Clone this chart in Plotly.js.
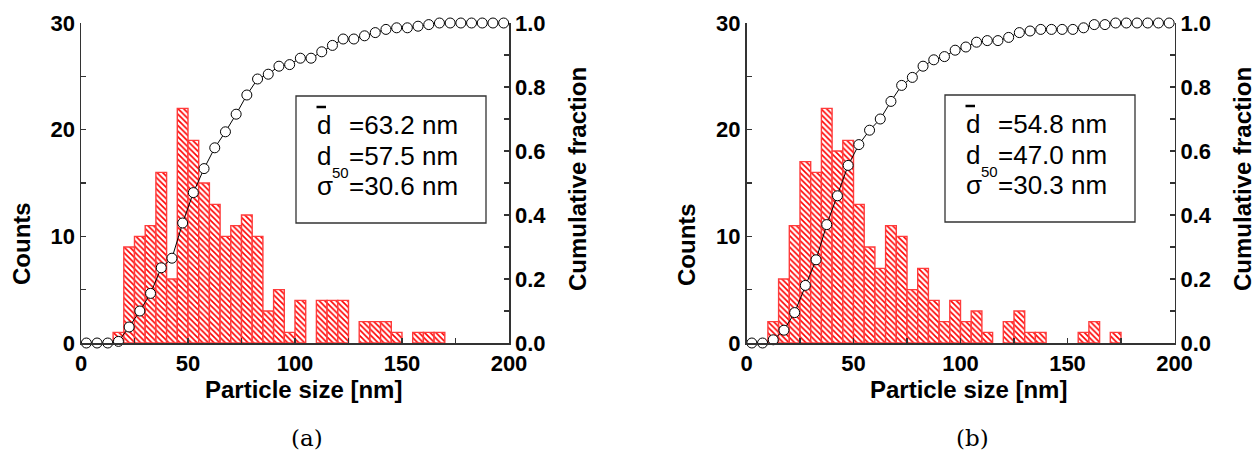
<!DOCTYPE html>
<html>
<head>
<meta charset="utf-8">
<script src="https://cdn.plot.ly/plotly-3.0.1.min.js"></script>
<style>html,body{margin:0;padding:0;background:#fff;}#chart{width:1260px;height:458px;}</style>
</head>
<body>
<div id="chart"></div>
<script>
// Bin centres (nm), 5 nm wide bins
const binCenters = [2.5,7.5,12.5,17.5,22.5,27.5,32.5,37.5,42.5,47.5,52.5,57.5,62.5,67.5,72.5,77.5,82.5,87.5,92.5,97.5,
  102.5,107.5,112.5,117.5,122.5,127.5,132.5,137.5,142.5,147.5,152.5,157.5,162.5,167.5,172.5,177.5,182.5,187.5,192.5,197.5];

// Panel (a)
const countsA = [0,0,0,1,9,10,11,16,6,22,19,15,13,10,11,12,10,3,5,1,4,0,4,4,4,0,2,2,2,1,0,1,1,1,0,0,0,0,0,0];
const cumA = [0,0,0,0.005,0.05,0.10,0.155,0.235,0.265,0.375,0.47,0.545,0.61,0.66,0.715,0.775,0.825,0.84,0.865,0.87,
  0.89,0.89,0.91,0.93,0.95,0.95,0.96,0.97,0.98,0.985,0.985,0.99,0.995,1,1,1,1,1,1,1];

// Panel (b)
const countsB = [0,0,2,6,11,17,16,22,18,19,13,9,7,11,10,5,7,4,2,4,2,3,1,0,2,3,1,1,0,0,0,1,2,0,1,0,0,0,0,0];
const cumB = [0,0,0.01,0.04,0.095,0.18,0.26,0.37,0.46,0.555,0.62,0.665,0.70,0.755,0.805,0.83,0.865,0.885,0.895,0.915,
  0.925,0.94,0.945,0.945,0.955,0.97,0.975,0.98,0.98,0.98,0.98,0.985,0.995,0.995,1,1,1,1,1,1];

const statSymbols = ["d", "d", "\u03c3"];
const statsA = ["=63.2 nm", "=57.5 nm", "=30.6 nm"];
const statsB = ["=54.8 nm", "=47.0 nm", "=30.3 nm"];
const subText = "50";

const xTitle = "Particle size [nm]";
const yTitle = "Counts";
const y2Title = "Cumulative fraction";
const captions = ["(a)", "(b)"];

const W = 1260, H = 458;
const px = v => v / W;
const py = v => 1 - v / H;

const AX = '#333';
const SANS = 'Liberation Sans, Arial, sans-serif';
const tickFont = {family: SANS, size: 22, color: '#000', weight: 700};
const titleFont = {family: SANS, size: 24, color: '#000', weight: 700};

function barTrace(y, xa, ya) {
  return {
    type: 'bar', x: binCenters, y: y.map(v => (v === 0 ? null : v)), width: 5, xaxis: xa, yaxis: ya,
    marker: {
      color: 'white',
      line: {color: 'rgb(255,60,60)', width: 1.4},
      pattern: {shape: '\\', fgcolor: 'rgb(255,0,0)', bgcolor: 'white', size: 4, solidity: 0.4}
    }
  };
}
function cumTrace(y, xa, ya) {
  return {
    type: 'scatter', mode: 'lines+markers', x: binCenters, y: y, xaxis: xa, yaxis: ya,
    line: {color: '#000', width: 1},
    marker: {symbol: 'circle', size: 10, color: 'white', line: {color: '#000', width: 1}},
    cliponaxis: false
  };
}

const data = [
  barTrace(countsA, 'x', 'y'),
  cumTrace(cumA, 'x', 'y2'),
  barTrace(countsB, 'x2', 'y3'),
  cumTrace(cumB, 'x2', 'y4')
];

function xAxis(dom, anchor) {
  return {
    domain: dom, anchor: anchor, range: [0, 200], showgrid: false, zeroline: false,
    showline: true, linecolor: AX, linewidth: 1.5, mirror: false,
    ticks: 'inside', ticklen: 5, tickwidth: 1.5, tickcolor: AX, tick0: 0, dtick: 50,
    minor: {dtick: 25, ticks: 'inside', ticklen: 5, tickwidth: 1.5, tickcolor: AX, showgrid: false},
    tickfont: tickFont, fixedrange: true
  };
}
function yAxis(anchor) {
  return {
    domain: [py(343), py(23)], anchor: anchor, range: [0, 30], showgrid: false, zeroline: false,
    showline: true, linecolor: AX, linewidth: 1.5,
    ticks: 'inside', ticklen: 5, tickwidth: 1.5, tickcolor: AX, tick0: 0, dtick: 10,
    minor: {dtick: 5, ticks: 'inside', ticklen: 5, tickwidth: 1.5, tickcolor: AX, showgrid: false},
    tickfont: tickFont, fixedrange: true
  };
}
function y2Axis(over, anchor) {
  return {
    overlaying: over, anchor: anchor, side: 'right', range: [0, 1], showgrid: false, zeroline: false,
    showline: true, linecolor: AX, linewidth: 1.5,
    ticks: 'inside', ticklen: 5, tickwidth: 1.5, tickcolor: AX, tick0: 0, dtick: 0.2, tickformat: '.1f',
    minor: {dtick: 0.1, ticks: 'inside', ticklen: 5, tickwidth: 1.5, tickcolor: AX, showgrid: false},
    tickfont: tickFont, fixedrange: true
  };
}

const annotations = [];
const shapes = [];
function ann(x, y, text, font, extra) {
  annotations.push(Object.assign({xref: 'paper', yref: 'paper', x: px(x), y: py(y), text: text, showarrow: false,
    xanchor: 'left', yanchor: 'middle', font: font}, extra || {}));
}
function statBox(vals, left, top) {
  shapes.push({type: 'rect', xref: 'paper', yref: 'paper', x0: px(left), x1: px(left + 190), y0: py(top), y1: py(top + 127),
    line: {color: AX, width: 1.3}, fillcolor: 'white', layer: 'above'});
  const boxFont = {family: SANS, size: 26, color: '#000'};
  const offs = [29, 60, 90];
  vals.forEach((v, i) => {
    ann(left + 19, top + offs[i], statSymbols[i], boxFont);
    ann(left + 51, top + offs[i], v, boxFont);
  });
  // bar over the mean symbol
  shapes.push({type: 'line', xref: 'paper', yref: 'paper', x0: px(left + 20.5), x1: px(left + 30), y0: py(top + 11), y1: py(top + 11),
    line: {color: '#000', width: 2.5}, layer: 'above'});
  // subscript 50
  ann(left + 34, top + 76, subText, {family: SANS, size: 15, color: '#000'});
}
statBox(statsA, 296, 96);
statBox(statsB, 945, 95);

function titles(dx, cap) {
  ann(21 + dx, 244, yTitle, titleFont, {textangle: -90, xanchor: 'center'});
  ann(577 + dx, 179, y2Title, titleFont, {textangle: -90, xanchor: 'center'});
  ann(303 + dx, 389, xTitle, titleFont, {xanchor: 'center'});
  ann(307 + dx, 438, cap, {family: 'DejaVu Serif, serif', size: 23, color: '#000'}, {xanchor: 'center'});
}
titles(0, captions[0]);
titles(665, captions[1]);

const layout = {
  width: W, height: H, margin: {l: 0, r: 0, t: 0, b: 0},
  paper_bgcolor: 'white', plot_bgcolor: 'white', showlegend: false, bargap: 0,
  xaxis: xAxis([px(81), px(509)], 'y'),
  yaxis: yAxis('x'),
  yaxis2: y2Axis('y', 'x'),
  xaxis2: xAxis([px(746.5), px(1174.5)], 'y3'),
  yaxis3: yAxis('x2'),
  yaxis4: y2Axis('y3', 'x2'),
  annotations: annotations, shapes: shapes
};

Plotly.newPlot('chart', data, layout, {staticPlot: true, displayModeBar: false});
</script>
</body>
</html>
